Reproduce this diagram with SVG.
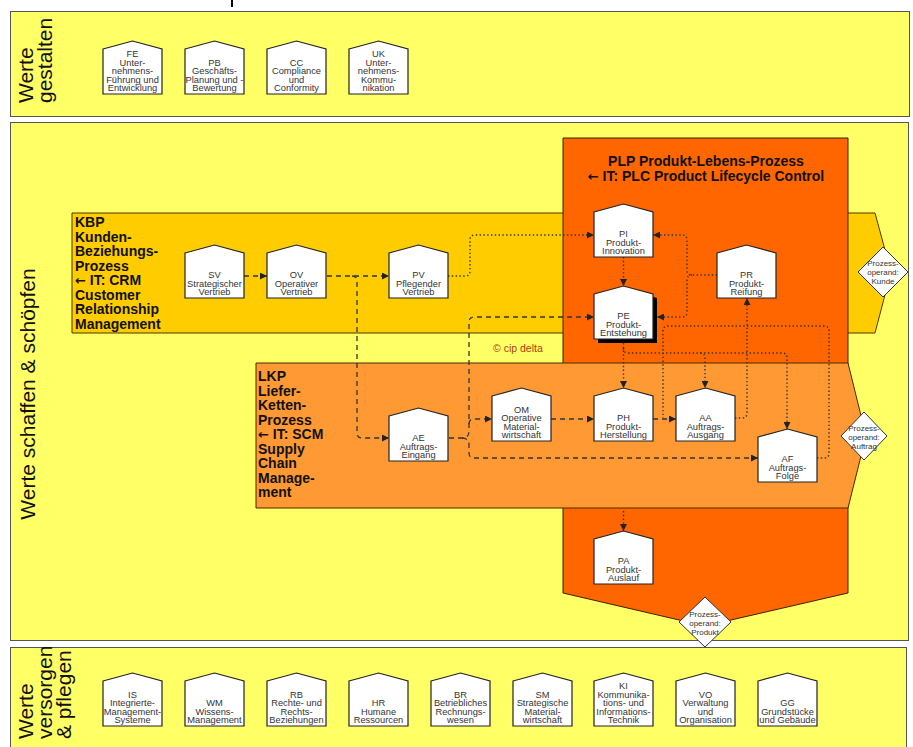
<svg xmlns="http://www.w3.org/2000/svg" xmlns:xlink="http://www.w3.org/1999/xlink" width="913" height="747" viewBox="0 0 913 747">
<style>
.band{fill:#ffff66;stroke:#555;stroke-width:1}
.kbp{fill:#ffcc00;stroke:#4a3a00;stroke-width:1}
.plp{fill:#ff6600;stroke:#3a2000;stroke-width:1}
.lkp{fill:#ff9933;stroke:#4a2a00;stroke-width:1}
.node{fill:#fff;stroke:#222;stroke-width:1.2}
.shadow{fill:#000}
.nt{font-family:"Liberation Sans",Arial,sans-serif;font-size:9.3px;fill:#333;text-anchor:middle}
.dia{fill:#fff;stroke:#333;stroke-width:1}
.dt{font-family:"Liberation Sans",Arial,sans-serif;font-size:8px;fill:#333;text-anchor:middle}
.big{font-family:"Liberation Sans",Arial,sans-serif;font-size:14px;font-weight:bold;fill:#111}
.arr{font-family:"DejaVu Sans",sans-serif;font-weight:bold;font-size:13px}
.lab{font-family:"Liberation Sans",Arial,sans-serif;font-size:21px;fill:#111}
.copy{font-family:"Liberation Sans",Arial,sans-serif;font-size:10.5px;fill:#b04010}
.d{fill:none;stroke:#333;stroke-width:1.3;stroke-dasharray:5 4}
.o{fill:none;stroke:#333;stroke-width:1.4;stroke-dasharray:1.4 2.4}
</style>
<defs>
<path id="house" d="M0,8 L29.5,0 L59,8 V53 H0 Z"/>
<marker id="ah" viewBox="0 0 7 7" refX="7" refY="3.5" markerWidth="7" markerHeight="7" markerUnits="userSpaceOnUse" orient="auto">
<path d="M0,0 L7,3.5 L0,7 Z" fill="#222"/>
</marker>
</defs>
<rect width="913" height="747" fill="#fff"/>
<line x1="232" y1="0" x2="232" y2="7" stroke="#000" stroke-width="2"/>

<!-- bands -->
<g id="band-gestalten">
<rect class="band" x="10.5" y="11.5" width="899" height="105"/>
<text class="lab" transform="translate(33,103) rotate(-90)">Werte</text>
<text class="lab" transform="translate(52,103) rotate(-90)">gestalten</text>
</g>
<g id="band-schaffen">
<rect class="band" x="10.5" y="122.5" width="898" height="518"/>
<text class="lab" transform="translate(35,394) rotate(-90)" text-anchor="middle">Werte schaffen &amp; schöpfen</text>
</g>
<g id="band-versorgen">
<rect class="band" x="10.5" y="647.5" width="896" height="110"/>
<text class="lab" transform="translate(33,739) rotate(-90)">Werte</text>
<text class="lab" transform="translate(52,739) rotate(-90)">versorgen</text>
<text class="lab" transform="translate(71,739) rotate(-90)">&amp; pflegen</text>
</g>

<!-- process areas -->
<g id="KBP">
<polygon class="kbp" points="72,213 875,213 891,272 875,333 72,333"/>
<text class="big"><tspan x="75" y="227">KBP</tspan><tspan x="75" y="241.5">Kunden-</tspan><tspan x="75" y="256">Beziehungs-</tspan><tspan x="75" y="270.5">Prozess</tspan><tspan x="75" y="285"><tspan class="arr">←</tspan> IT: CRM</tspan><tspan x="75" y="299.5">Customer</tspan><tspan x="75" y="314">Relationship</tspan><tspan x="75" y="328.5">Management</tspan></text>
</g>
<g id="PLP">
<polygon class="plp" points="563,138 848,138 848,593 705,626 563,593"/>
<text class="big" text-anchor="middle" x="706" y="165.5">PLP Produkt-Lebens-Prozess</text>
<text class="big" text-anchor="middle" x="706" y="181"><tspan class="arr">←</tspan> IT: PLC Product Lifecycle Control</text>
</g>
<g id="LKP">
<polygon class="lkp" points="256,363 848,363 866,436 848,508 256,508"/>
<text class="big"><tspan x="258" y="381">LKP</tspan><tspan x="258" y="395.5">Liefer-</tspan><tspan x="258" y="410">Ketten-</tspan><tspan x="258" y="424.5">Prozess</tspan><tspan x="258" y="439"><tspan class="arr">←</tspan> IT: SCM</tspan><tspan x="258" y="453.5">Supply</tspan><tspan x="258" y="468">Chain</tspan><tspan x="258" y="482.5">Manage-</tspan><tspan x="258" y="497">ment</tspan></text>
</g>
<text id="copyright" class="copy" x="493" y="352">© cip delta</text>

<!-- operands -->
<g id="op-kunde">
<polygon class="dia" points="883,247 908,272 883,297 858,272"/>
<text class="dt"><tspan x="883" y="266">Prozess-</tspan><tspan x="883" y="275">operand:</tspan><tspan x="883" y="284">Kunde</tspan></text>
</g>
<g id="op-auftrag">
<polygon class="dia" points="864,412 887,436 864,460 841,436"/>
<text class="dt"><tspan x="864" y="431">Prozess-</tspan><tspan x="864" y="440">operand:</tspan><tspan x="864" y="449">Auftrag</tspan></text>
</g>
<g id="op-produkt">
<polygon class="dia" points="705,597 731,622 705,647 679,622"/>
<text class="dt"><tspan x="705" y="617">Prozess-</tspan><tspan x="705" y="626">operand:</tspan><tspan x="705" y="635">Produkt</tspan></text>
</g>

<!-- connectors -->
<g id="connectors">
<path class="d" d="M244,276 H267" marker-end="url(#ah)"/>
<path class="d" d="M327,276 H389" marker-end="url(#ah)"/>
<path class="d" d="M352,276 Q357,276 357,281 V433 Q357,438 362,438 H389" marker-end="url(#ah)"/>
<path class="o" d="M448,276 H465 Q470,276 470,271 V240 Q470,235 475,235 H594" marker-end="url(#ah)"/>
<path class="d" d="M449,438 H462 Q469,438 469,431 V322 Q469,317 474,317 H594" marker-end="url(#ah)"/>
<path class="d" d="M469,424 Q469,419 474,419 H492" marker-end="url(#ah)"/>
<path class="d" d="M462,438 Q469,438 469,445 V453 Q469,458 474,458 H758" marker-end="url(#ah)"/>
<path class="d" d="M551,419 H594" marker-end="url(#ah)"/>
<path class="d" d="M653,419 H676" marker-end="url(#ah)"/>
<path class="o" d="M623.5,257 V286" marker-end="url(#ah)"/>
<path class="o" d="M717,275 H692 Q687,275 687,270 V240 Q687,235 682,235 H653" marker-end="url(#ah)"/>
<path class="o" d="M692,275 Q687,275 687,280 V312 Q687,317 682,317 H657" marker-end="url(#ah)"/>
<path class="o" d="M623.5,343 V388" marker-end="url(#ah)"/>
<path class="o" d="M623.5,348 Q623.5,353 628,353 H782 Q787,353 787,358 V429" marker-end="url(#ah)"/>
<path class="o" d="M700,353 Q705,353 705,358 V388" marker-end="url(#ah)"/>
<path class="o" d="M735,418 H742 Q747,418 747,413 V298" marker-end="url(#ah)"/>
<path class="o" d="M817,458 H824 Q829,458 829,453 V331 Q829,326 824,326 H668 Q663,326 663,331 V418"/>
<path class="o" d="M623.5,511 V531" marker-end="url(#ah)"/>
</g>

<!-- top band nodes -->
<g id="FE"><use href="#house" class="node" x="103" y="41"/><text class="nt"><tspan x="132.5" y="57">FE</tspan><tspan x="132.5" y="65.5">Unter-</tspan><tspan x="132.5" y="74">nehmens-</tspan><tspan x="132.5" y="82.5">Führung und</tspan><tspan x="132.5" y="91">Entwicklung</tspan></text></g>
<g id="PB"><use href="#house" class="node" x="185" y="41"/><text class="nt"><tspan x="214.5" y="65.5">PB</tspan><tspan x="214.5" y="74">Geschäfts-</tspan><tspan x="214.5" y="82.5">Planung und -</tspan><tspan x="214.5" y="91">Bewertung</tspan></text></g>
<g id="CC"><use href="#house" class="node" x="267" y="41"/><text class="nt"><tspan x="296.5" y="65.5">CC</tspan><tspan x="296.5" y="74">Compliance</tspan><tspan x="296.5" y="82.5">und</tspan><tspan x="296.5" y="91">Conformity</tspan></text></g>
<g id="UK"><use href="#house" class="node" x="349" y="41"/><text class="nt"><tspan x="378.5" y="57">UK</tspan><tspan x="378.5" y="65.5">Unter-</tspan><tspan x="378.5" y="74">nehmens-</tspan><tspan x="378.5" y="82.5">Kommu-</tspan><tspan x="378.5" y="91">nikation</tspan></text></g>

<!-- middle nodes -->
<g id="SV"><use href="#house" class="node" x="185" y="245"/><text class="nt"><tspan x="214.5" y="278">SV</tspan><tspan x="214.5" y="286.5">Strategischer</tspan><tspan x="214.5" y="295">Vertrieb</tspan></text></g>
<g id="OV"><use href="#house" class="node" x="267" y="245"/><text class="nt"><tspan x="296.5" y="278">OV</tspan><tspan x="296.5" y="286.5">Operativer</tspan><tspan x="296.5" y="295">Vertrieb</tspan></text></g>
<g id="PV"><use href="#house" class="node" x="389" y="245"/><text class="nt"><tspan x="418.5" y="278">PV</tspan><tspan x="418.5" y="286.5">Pflegender</tspan><tspan x="418.5" y="295">Vertrieb</tspan></text></g>
<g id="PI"><use href="#house" class="node" x="594" y="204"/><text class="nt"><tspan x="623.5" y="237">PI</tspan><tspan x="623.5" y="245.5">Produkt-</tspan><tspan x="623.5" y="254">Innovation</tspan></text></g>
<g id="PR"><use href="#house" class="node" x="717" y="245"/><text class="nt"><tspan x="746.5" y="278">PR</tspan><tspan x="746.5" y="286.5">Produkt-</tspan><tspan x="746.5" y="295">Reifung</tspan></text></g>
<g id="PE"><use href="#house" class="shadow" x="598" y="290"/><use href="#house" class="node" x="594" y="286"/><text class="nt"><tspan x="623.5" y="319">PE</tspan><tspan x="623.5" y="327.5">Produkt-</tspan><tspan x="623.5" y="336">Entstehung</tspan></text></g>
<g id="AE"><use href="#house" class="node" x="389" y="408"/><text class="nt"><tspan x="418.5" y="441">AE</tspan><tspan x="418.5" y="449.5">Auftrags-</tspan><tspan x="418.5" y="458">Eingang</tspan></text></g>
<g id="OM"><use href="#house" class="node" x="492" y="388"/><text class="nt"><tspan x="521.5" y="412.5">OM</tspan><tspan x="521.5" y="421">Operative</tspan><tspan x="521.5" y="429.5">Material-</tspan><tspan x="521.5" y="438">wirtschaft</tspan></text></g>
<g id="PH"><use href="#house" class="node" x="594" y="388"/><text class="nt"><tspan x="623.5" y="421">PH</tspan><tspan x="623.5" y="429.5">Produkt-</tspan><tspan x="623.5" y="438">Herstellung</tspan></text></g>
<g id="AA"><use href="#house" class="node" x="676" y="388"/><text class="nt"><tspan x="705.5" y="421">AA</tspan><tspan x="705.5" y="429.5">Auftrags-</tspan><tspan x="705.5" y="438">Ausgang</tspan></text></g>
<g id="AF"><use href="#house" class="node" x="758" y="429"/><text class="nt"><tspan x="787.5" y="462">AF</tspan><tspan x="787.5" y="470.5">Auftrags-</tspan><tspan x="787.5" y="479">Folge</tspan></text></g>
<g id="PA"><use href="#house" class="node" x="594" y="531"/><text class="nt"><tspan x="623.5" y="564">PA</tspan><tspan x="623.5" y="572.5">Produkt-</tspan><tspan x="623.5" y="581">Auslauf</tspan></text></g>

<!-- bottom band nodes -->
<g id="IS"><use href="#house" class="node" x="103" y="673"/><text class="nt"><tspan x="132.5" y="697.5">IS</tspan><tspan x="132.5" y="706">Integrierte-</tspan><tspan x="132.5" y="714.5">Management-</tspan><tspan x="132.5" y="723">Systeme</tspan></text></g>
<g id="WM"><use href="#house" class="node" x="185" y="673"/><text class="nt"><tspan x="214.5" y="706">WM</tspan><tspan x="214.5" y="714.5">Wissens-</tspan><tspan x="214.5" y="723">Management</tspan></text></g>
<g id="RB"><use href="#house" class="node" x="267" y="673"/><text class="nt"><tspan x="296.5" y="697.5">RB</tspan><tspan x="296.5" y="706">Rechte- und</tspan><tspan x="296.5" y="714.5">Rechts-</tspan><tspan x="296.5" y="723">Beziehungen</tspan></text></g>
<g id="HR"><use href="#house" class="node" x="349" y="673"/><text class="nt"><tspan x="378.5" y="706">HR</tspan><tspan x="378.5" y="714.5">Humane</tspan><tspan x="378.5" y="723">Ressourcen</tspan></text></g>
<g id="BR"><use href="#house" class="node" x="431" y="673"/><text class="nt"><tspan x="460.5" y="697.5">BR</tspan><tspan x="460.5" y="706">Betriebliches</tspan><tspan x="460.5" y="714.5">Rechnungs-</tspan><tspan x="460.5" y="723">wesen</tspan></text></g>
<g id="SM"><use href="#house" class="node" x="513" y="673"/><text class="nt"><tspan x="542.5" y="697.5">SM</tspan><tspan x="542.5" y="706">Strategische</tspan><tspan x="542.5" y="714.5">Material-</tspan><tspan x="542.5" y="723">wirtschaft</tspan></text></g>
<g id="KI"><use href="#house" class="node" x="594" y="673"/><text class="nt"><tspan x="623.5" y="689">KI</tspan><tspan x="623.5" y="697.5">Kommunika-</tspan><tspan x="623.5" y="706">tions- und</tspan><tspan x="623.5" y="714.5">Informations-</tspan><tspan x="623.5" y="723">Technik</tspan></text></g>
<g id="VO"><use href="#house" class="node" x="676" y="673"/><text class="nt"><tspan x="705.5" y="697.5">VO</tspan><tspan x="705.5" y="706">Verwaltung</tspan><tspan x="705.5" y="714.5">und</tspan><tspan x="705.5" y="723">Organisation</tspan></text></g>
<g id="GG"><use href="#house" class="node" x="758" y="673"/><text class="nt"><tspan x="787.5" y="706">GG</tspan><tspan x="787.5" y="714.5">Grundstücke</tspan><tspan x="787.5" y="723">und Gebäude</tspan></text></g>
</svg>
